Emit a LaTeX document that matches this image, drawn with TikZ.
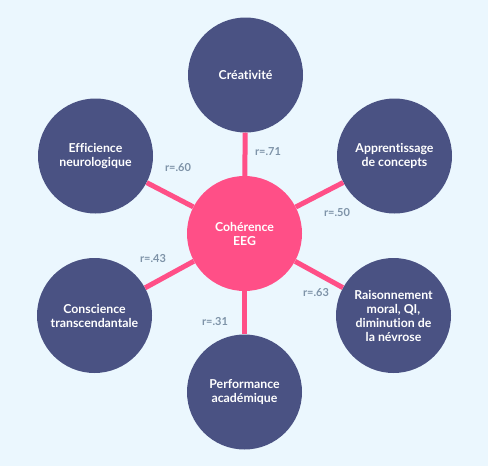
\documentclass[tikz,border=0pt]{standalone}
\usepackage{fontspec}
\setmainfont{Lato}[Ligatures={NoCommon,TeX}]
\definecolor{bgc}{HTML}{EBF7FE}
\definecolor{hubc}{HTML}{FF4F87}
\definecolor{outc}{HTML}{4A5283}
\definecolor{labc}{HTML}{7E93A8}
\begin{document}
\begin{tikzpicture}[x=1pt,y=-1pt,
  hub/.style={circle,fill=hubc,minimum size=115pt,inner sep=0pt,text=white,align=center,font=\bfseries\fontsize{12.3}{14}\selectfont},
  outer/.style={circle,fill=outc,minimum size=115pt,inner sep=0pt,text=white,align=center,font=\bfseries\fontsize{12.3}{14}\selectfont},
  link/.style={draw=hubc,line width=5pt},
  rlab/.style={text=labc,font=\bfseries\fontsize{11}{12}\selectfont,inner sep=0pt}]
\fill[bgc] (0,0) rectangle (488,466);
\useasboundingbox (0,0) rectangle (488,466);
\node[hub] (c) at (244.5,233.5) {Cohérence\\EEG};
\node[outer] (cre) at (245.5,75) {Créativité};
\node[outer] (app) at (394.5,156) {Apprentissage\\de concepts};
\node[outer] (rai) at (393.5,315.5) {Raisonnement\\moral, QI,\\diminution de\\la névrose};
\node[outer] (per) at (244.5,392) {Performance\\académique};
\node[outer] (con) at (94.5,315.5) {Conscience\\transcendantale};
\node[outer] (eff) at (95.5,156) {Efficience\\neurologique};
\draw[link] (c) -- (cre);
\draw[link] (c) -- (app);
\draw[link] (c) -- (rai);
\draw[link] (c) -- (per);
\draw[link] (c) -- (con);
\draw[link] (c) -- (eff);
\node[rlab] (l1) at (268,152) {r=.71};
\node[rlab] (l2) at (178,168) {r=.60};
\node[rlab] (l3) at (337,213) {r=.50};
\node[rlab] (l4) at (153,259) {r=.43};
\node[rlab] (l5) at (316,293) {r=.63};
\node[rlab] (l6) at (215,322) {r=.31};
\end{tikzpicture}
\end{document}
